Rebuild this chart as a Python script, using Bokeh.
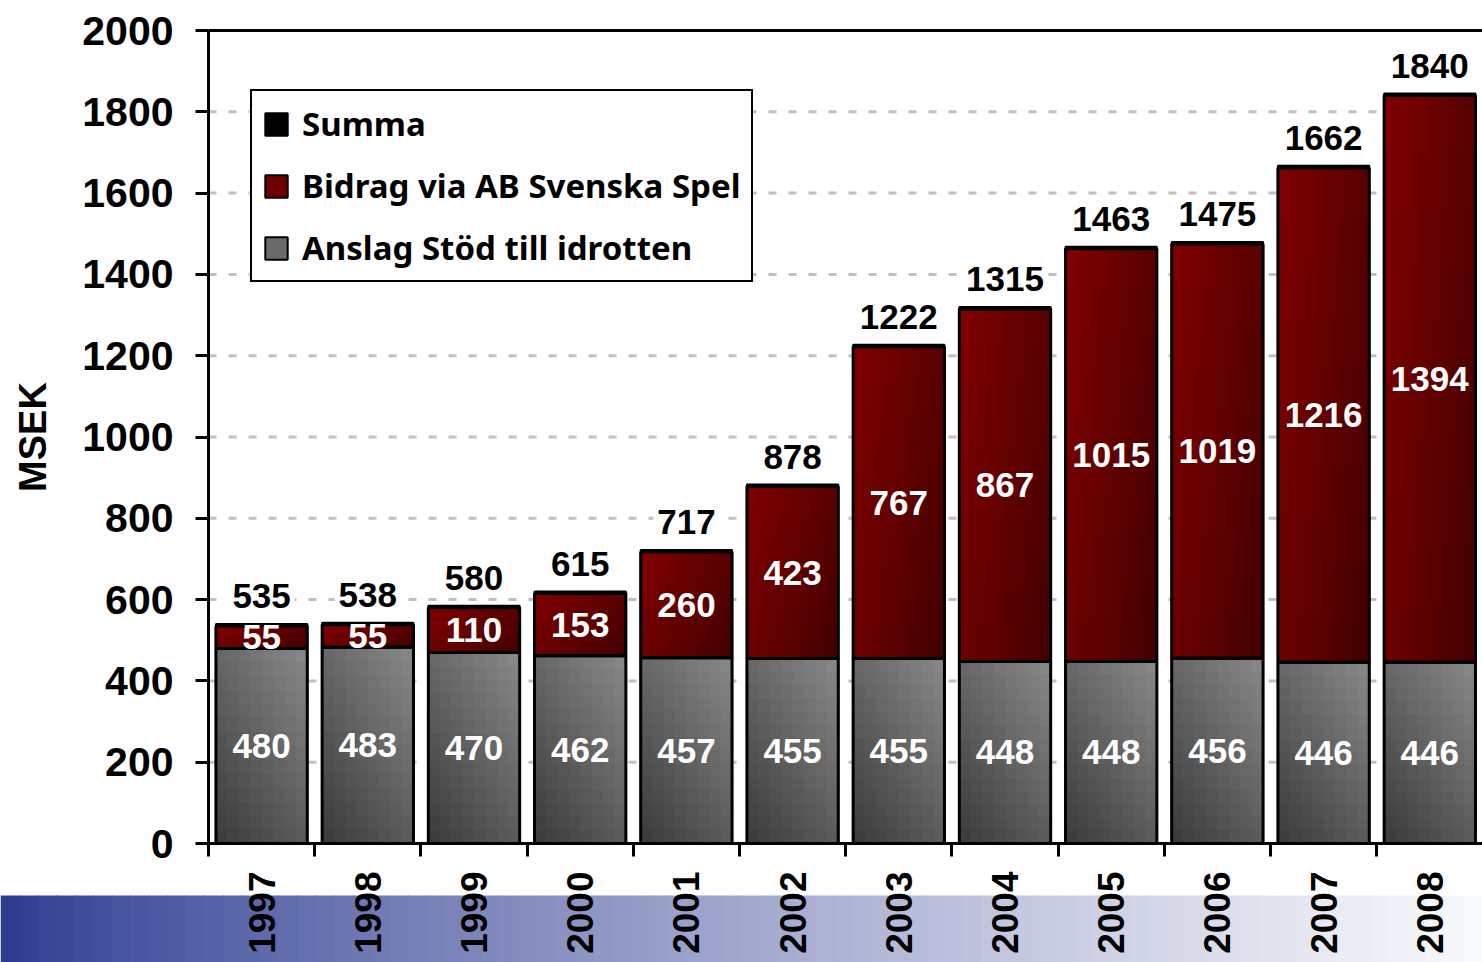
import numpy as np
from bokeh.plotting import figure
from bokeh.models import (FixedTicker, Legend, LegendItem, Range1d, LinearAxis)
from bokeh.core.properties import value
from bokeh.embed import file_html
from bokeh.resources import INLINE

# ---------------- data ----------------
years = ["1997", "1998", "1999", "2000", "2001", "2002",
         "2003", "2004", "2005", "2006", "2007", "2008"]
anslag = [480, 483, 470, 462, 457, 455, 455, 448, 448, 456, 446, 446]
bidrag = [55, 55, 110, 153, 260, 423, 767, 867, 1015, 1019, 1216, 1394]
summa = [535, 538, 580, 615, 717, 878, 1222, 1315, 1463, 1475, 1662, 1840]
y_ticks = [0, 200, 400, 600, 800, 1000, 1200, 1400, 1600, 1800, 2000]
series_names = ["Summa", "Bidrag via AB Svenska Spel", "Anslag Stöd till idrotten"]
y_title = "MSEK"

# ---------------- layout constants ----------------
W, H = 1482, 962
AXIS_X_PX = 208      # canvas x of the y axis
ZERO_Y_PX = 843      # canvas y of value 0
TOP_Y_PX = 30        # canvas y of top tick
CAT_PX = 106.2       # px per category
BAR_W = 0.86
BAND_TOP_PX = 895
SUMMA_CAP = 5

n = len(years)
px_per_unit = (ZERO_Y_PX - TOP_Y_PX) / y_ticks[-1]
x_start = -AXIS_X_PX / CAT_PX
x_end = (W - AXIS_X_PX) / CAT_PX
y_start = -(H - ZERO_Y_PX) / px_per_unit
y_end = y_ticks[-1] + TOP_Y_PX / px_per_unit

p = figure(width=W, height=H, x_range=Range1d(x_start, x_end),
           y_range=Range1d(y_start, y_end), output_backend="svg",
           toolbar_location=None, min_border=0,
           x_axis_location=None, y_axis_location=None,
           outline_line_color=None, background_fill_color="white",
           border_fill_color="white")
p.grid.visible = False

BOLD_FONT = value("Liberation Sans")

# ---------------- background band (bottom gradient) ----------------
band_top = -(BAND_TOP_PX - ZERO_Y_PX) / px_per_unit
n_str = 80
c0 = np.array([43, 58, 145])
c1 = np.array([250, 250, 252])
bl, br, bc = [], [], []
for k in range(n_str):
    t0 = k / n_str
    t1 = (k + 1) / n_str
    t = ((t0 + t1) / 2) ** 0.8
    c = (c0 + (c1 - c0) * t).astype(int)
    bl.append(x_start + (x_end - x_start) * t0)
    br.append(x_start + (x_end - x_start) * t1 + 0.01)
    bc.append("#%02x%02x%02x" % tuple(c))
p.quad(left=bl, right=br, bottom=y_start, top=band_top, fill_color=bc,
       line_color=None)

# ---------------- grid lines ----------------
grid_y = y_ticks[1:-1]
p.segment(x0=[0] * len(grid_y), x1=[x_end] * len(grid_y), y0=grid_y, y1=grid_y,
          line_color="#c0c0c0", line_width=3, line_dash="8 12")

# ---------------- bars ----------------
centers = [i + 0.5 for i in range(n)]
stack_top = [a + b for a, b in zip(anslag, bidrag)]

# solid base segments (also used for the legend swatches)
r_ans = p.vbar(x=centers, width=BAR_W, bottom=0, top=anslag,
               fill_color="#6a6a6a", line_color="black", line_width=2)
r_bid = p.vbar(x=centers, width=BAR_W, bottom=anslag, top=stack_top,
               fill_color="#700000", line_color="black", line_width=2)

# gradient shading drawn over the base segments
cl, cr, cb, ct, cc = [], [], [], [], []


def add_cells(i, bottom, top, nx, ny, colfun):
    left0 = centers[i] - BAR_W / 2
    dx = BAR_W / nx
    dy = (top - bottom) / ny
    for ix in range(nx):
        for iy in range(ny):
            u = (ix + 0.5) / nx
            v = (iy + 0.5) / ny
            cl.append(left0 + ix * dx)
            cr.append(left0 + (ix + 1) * dx + 0.004)
            cb.append(bottom + iy * dy)
            ct.append(min(top, bottom + (iy + 1) * dy + 1.5))
            cc.append(colfun(u, v))


def gray(u, v):
    g = int(max(0, min(255, 58 + 34 * u + 46 * v)))
    return "#%02x%02x%02x" % (g, g, g)


def red(u, v):
    r = int(max(0, min(255, 130 - 42 * u - 22 * (1 - v))))
    return "#%02x0000" % r


for i in range(n):
    add_cells(i, 0, anslag[i], 8, 14, gray)
    add_cells(i, anslag[i], stack_top[i], 10, 10, red)

p.quad(left=cl, right=cr, bottom=cb, top=ct, fill_color=cc, line_color=None)

p.vbar(x=centers, width=BAR_W, bottom=0, top=anslag, fill_color=None,
       line_color="black", line_width=3)
p.vbar(x=centers, width=BAR_W, bottom=anslag, top=stack_top, fill_color=None,
       line_color="black", line_width=3)
r_sum = p.vbar(x=centers, width=BAR_W, bottom=summa,
               top=[s + SUMMA_CAP for s in summa],
               fill_color="black", line_color="black", line_width=2)

# top frame line
p.segment(x0=[0], x1=[x_end], y0=[y_ticks[-1]], y1=[y_ticks[-1]],
          line_color="black", line_width=3)

# ---------------- axes ----------------
yaxis = LinearAxis(fixed_location=0, bounds=(y_ticks[0], y_ticks[-1]),
                   ticker=FixedTicker(ticks=y_ticks))
yaxis.axis_line_width = 3
yaxis.axis_line_color = "black"
yaxis.major_tick_line_width = 3
yaxis.major_tick_line_color = "black"
yaxis.major_tick_out = 13
yaxis.major_tick_in = 0
yaxis.minor_tick_line_color = None
yaxis.major_label_standoff = 22
yaxis.major_label_text_font = "Liberation Sans"
yaxis.major_label_text_font_style = "bold"
yaxis.major_label_text_font_size = "41px"
yaxis.major_label_text_color = "black"
yaxis.axis_label = y_title
yaxis.axis_label_text_font = "Liberation Sans"
yaxis.axis_label_text_font_style = "bold"
yaxis.axis_label_text_font_size = "38px"
yaxis.axis_label_text_color = "black"
yaxis.axis_label_standoff = 25
p.add_layout(yaxis, "left")

xaxis = LinearAxis(fixed_location=0, bounds=(0, n),
                   ticker=FixedTicker(ticks=centers, minor_ticks=list(range(n + 1))))
xaxis.major_label_overrides = {c: y for c, y in zip(centers, years)}
xaxis.axis_line_width = 3
xaxis.axis_line_color = "black"
xaxis.major_tick_out = 0
xaxis.major_tick_in = 0
xaxis.major_tick_line_color = None
xaxis.minor_tick_out = 13
xaxis.minor_tick_in = 0
xaxis.minor_tick_line_width = 3
xaxis.minor_tick_line_color = "black"
xaxis.major_label_orientation = np.pi / 2
xaxis.major_label_standoff = 15
xaxis.major_label_text_font = "Liberation Sans"
xaxis.major_label_text_font_style = "bold"
xaxis.major_label_text_font_size = "37px"
xaxis.major_label_text_color = "black"
p.add_layout(xaxis, "below")

# ---------------- labels ----------------
p.text(x=centers, y=[a / 2 for a in anslag], text=[str(a) for a in anslag],
       text_font=BOLD_FONT, text_font_style="bold", text_font_size="35px",
       text_color="white", text_align="center", text_baseline="middle")
p.text(x=centers, y=[a + b / 2 for a, b in zip(anslag, bidrag)],
       text=[str(b) for b in bidrag],
       text_font=BOLD_FONT, text_font_style="bold", text_font_size="35px",
       text_color="white", text_align="center", text_baseline="middle")
p.text(x=centers, y=summa, text=[str(s) for s in summa],
       text_font=BOLD_FONT, text_font_style="bold", text_font_size="35px",
       text_color="black", text_align="center", text_baseline="alphabetic",
       y_offset=-30, background_fill_color="white", padding=4)

# ---------------- legend ----------------
legend = Legend(items=[LegendItem(label=series_names[0], renderers=[r_sum]),
                       LegendItem(label=series_names[1], renderers=[r_bid]),
                       LegendItem(label=series_names[2], renderers=[r_ans])],
                location=(250, 680))
legend.border_line_color = "black"
legend.border_line_width = 2
legend.border_line_alpha = 1
legend.background_fill_color = "white"
legend.background_fill_alpha = 1
legend.padding = 10
legend.spacing = 17
legend.margin = 0
legend.label_text_font = "Noto Sans"
legend.label_text_font_style = "bold"
legend.label_text_font_size = "33px"
legend.label_text_color = "black"
legend.glyph_width = 28
legend.glyph_height = 28
legend.label_standoff = 12
legend.label_height = 40
p.add_layout(legend)

open("out.html", "w").write(file_html(p, INLINE))
